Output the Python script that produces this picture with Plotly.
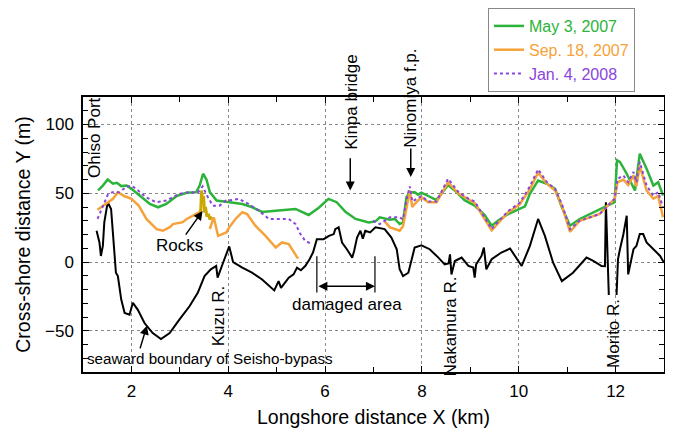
import plotly.graph_objects as go

# ---------------- data ----------------
black_x = [1.28, 1.34, 1.37, 1.41, 1.44, 1.51, 1.58, 1.63, 1.68, 1.72, 1.79, 1.86, 1.96, 2.03, 2.13,
           2.27, 2.44, 2.61, 2.79, 2.99, 3.20, 3.37, 3.51, 3.64, 3.75, 3.78, 3.85, 3.92, 4.02, 4.10,
           4.29, 4.49, 4.70, 4.95, 5.04, 5.09, 5.25, 5.35, 5.42, 5.50, 5.59, 5.68, 5.75, 5.83, 5.97,
           6.08, 6.18, 6.21, 6.28, 6.35, 6.45, 6.56, 6.60, 6.66, 6.73, 6.78, 6.83, 6.93, 7.04, 7.23,
           7.37, 7.48, 7.54, 7.61, 7.72, 7.79, 7.85, 7.99, 8.16, 8.34, 8.47, 8.55, 8.58, 8.61, 8.68,
           8.82, 8.96, 9.06, 9.09, 9.12, 9.23, 9.28, 9.33, 9.44, 9.64, 9.82, 9.92, 10.06, 10.23, 10.40,
           10.54, 10.71, 10.89, 11.12, 11.40, 11.54, 11.71, 11.78, 11.80, 11.86, None, 12.02, 12.05,
           12.09, 12.16, 12.23, 12.26, 12.37, 12.43, 12.50, 12.57, 12.64, 12.78, 12.92, 13.0]
black_y = [22.7, 14.2, 4.4, 11.7, 28.8, 43.5, 38.6, 16.6, -7.8, -10.2, -27.3, -37.0, -38.3, -29.7, -34.6,
           -44.4, -51.7, -56.1, -51.7, -41.9, -32.2, -22.4, -10.2, -5.3, -2.9, -11.4, -5.3, 2.0, 11.3, 0.0,
           -4.1, -7.8, -12.7, -20.7, -13.9, -18.8, -11.4, -9.0, -4.1, -6.0, -2.9, 2.0, 6.9, 16.6, 16.6,
           19.0, 20.3, 23.9, 25.2, 14.2, 9.3, 3.2, 8.0, 17.8, 22.7, 17.0, 22.7, 21.5, 25.2, 23.9,
           17.8, 9.3, -5.3, -10.2, -7.8, 2.0, 10.5, 12.2, 9.3, 3.2, -1.7, -1.0, 5.6, -9.0, 0.7,
           3.2, -2.9, -4.0, -11.4, -1.7, 4.4, 10.5, -5.3, 2.0, 6.9, 9.8, 4.4, -2.9, 11.7, 31.3,
           19.0, -0.5, -13.9, -7.8, 3.2, 0.8, -2.9, -3.0, 43.5, -24.0, None, -24.0, 2.0,
           9.3, 20.0, 33.7, -9.0, 9.3, 11.7, 20.3, 20.3, 14.2, 9.3, 4.4, -0.5]

may_x = [1.31, 1.41, 1.51, 1.62, 1.70, 1.79, 1.90, 2.00, 2.17, 2.38, 2.55, 2.72, 2.93, 3.14, 3.34,
         3.41, 3.48, 3.55, 3.62, 3.76, 4.03, 4.29, 4.50, 4.70, 4.98, 5.39, 5.66, 5.87, 6.07, 6.24,
         6.42, 6.63, 6.90, 7.04, 7.13, 7.23, 7.34, 7.44, 7.54, 7.61, 7.68, 7.75, 7.85, 7.92, 7.99,
         8.13, 8.30, 8.41, 8.54, 8.71, 8.88, 9.09, 9.30, 9.44, 9.57, 9.78, 9.99, 10.13, 10.23, 10.40,
         10.58, 10.75, 10.89, 11.06, 11.26, 11.47, 11.67, 11.84, 11.98, 12.03, 12.09, 12.23, 12.40,
         12.50, 12.64, 12.78, 12.88, 12.98]
may_y = [52.0, 55.6, 60.0, 56.9, 57.6, 55.2, 55.6, 53.2, 48.3, 42.2, 39.8, 42.2, 47.9, 50.3, 50.8,
         55.6, 64.2, 60.0, 50.8, 44.7, 43.5, 42.2, 39.8, 36.4, 37.3, 38.6, 34.2, 39.5, 45.9, 43.5,
         36.5, 31.3, 28.8, 29.5, 32.5, 31.8, 30.7, 31.3, 27.6, 28.8, 47.1, 50.8, 50.8, 49.0, 50.5,
         48.0, 45.0, 50.0, 56.0, 51.0, 45.0, 41.0, 34.0, 26.4, 30.0, 34.9, 38.6, 40.5, 49.6, 59.3,
         56.9, 53.2, 39.8, 26.4, 31.3, 34.9, 38.6, 41.5, 43.5, 74.0, 72.8, 64.2, 52.0,
         78.8, 67.9, 55.6, 58.1, 48.3]

sep_x = [1.30, 1.45, 1.62, 1.72, 1.85, 2.00, 2.15, 2.31, 2.44, 2.52, 2.65, 2.80, 2.86, 3.06, 3.14,
         3.27, 3.41, 3.44, None,
         3.62, 3.70, 3.79, 3.89, 3.96, 4.02, 4.15, 4.29, 4.39, 4.56, 4.77, 4.98, 5.11, 5.25, 5.35, 5.44, None,
         7.22, 7.34, 7.44, 7.54, 7.61, 7.68, 7.75, 7.80, 7.85, 7.99, 8.13, 8.30, 8.54, 8.75, 8.96,
         9.09, 9.30, 9.44, 9.57, 9.78, 10.02, 10.23, 10.40, 10.58, 10.75, 10.89, 11.06, 11.26, 11.47,
         11.67, 11.84, 11.98, 12.04, 12.16, 12.26, 12.37, 12.43, 12.50, 12.64, 12.78, 12.88, 12.98]
sep_y = [38.0, 42.0, 46.0, 50.8, 48.0, 46.0, 41.0, 31.3, 27.0, 23.9, 22.7, 25.5, 27.6, 29.0, 31.3,
         33.7, 36.2, 38.0, None,
         24.0, 32.5, 19.0, 20.3, 21.5, 25.2, 31.3, 36.2, 34.9, 26.4, 19.0, 10.5, 14.2, 13.0, 6.9, 2.5, None,
         30.0, 25.2, 24.0, 22.7, 26.0, 40.0, 52.0, 40.0, 42.2, 47.1, 43.5, 43.5, 58.0, 50.0, 45.9,
         43.0, 31.0, 23.0, 28.0, 36.0, 42.0, 53.0, 65.0, 57.0, 52.0, 41.0, 22.0, 30.0, 32.5,
         35.0, 41.0, 45.9, 58.0, 60.0, 56.0, 63.0, 55.0, 70.0, 52.0, 46.0, 48.0, 32.5]

rocks_x = [3.43, 3.45, 3.47, 3.49, 3.51, 3.53, 3.56, 3.59, 3.62, 3.66]
rocks_y = [37.0, 52.0, 44.0, 48.0, 36.0, 40.0, 33.0, 35.0, 31.0, 33.0]

jan_x = [1.30, 1.41, 1.51, 1.61, 1.75, 1.89, 1.99, 2.10, 2.30, 2.51, 2.72, 2.99, 3.20, 3.37, 3.47,
         3.58, 3.68, 3.82, 3.95, 4.01, 4.22, 4.42, 4.63, 4.84, 5.04, 5.25, 5.39, 5.49, 5.59, 5.73, None,
         6.99, 7.13, 7.34, 7.54, 7.61, 7.68, 7.75, 7.80, 7.85, 7.99, 8.13, 8.30, 8.54, 8.75, 8.96,
         9.09, 9.30, 9.44, 9.57, 9.78, 10.02, 10.23, 10.40, 10.58, 10.75, 10.89, 11.06, 11.26, 11.47,
         11.67, 11.84, 11.98, 12.04, 12.16, 12.26, 12.37, 12.43, 12.50, 12.64, 12.78, 12.88, 12.98]
jan_y = [31.3, 41.0, 48.8, 50.8, 50.8, 54.5, 55.6, 53.2, 47.1, 43.5, 44.7, 49.6, 50.8, 50.3, 55.0,
         47.1, 41.0, 41.0, 44.7, 44.7, 45.9, 42.2, 37.3, 31.3, 31.3, 31.3, 27.6, 20.3, 15.4, 13.0, None,
         30.0, 27.6, 32.5, 32.5, 31.0, 45.0, 55.0, 44.0, 45.0, 48.0, 44.0, 44.0, 60.5, 51.0, 46.0,
         44.0, 32.0, 24.0, 29.0, 37.0, 43.0, 55.0, 67.4, 58.1, 53.2, 42.2, 23.9, 30.0, 32.5,
         34.9, 41.0, 45.9, 60.5, 63.0, 58.1, 65.4, 58.0, 72.8, 55.6, 48.3, 50.8, 39.8]

x_ticks = [2, 4, 6, 8, 10, 12]
y_ticks = [-50, 0, 50, 100]

GREEN = "#2bb33a"
ORANGE = "#f6a23a"
PURPLE = "#8a45dc"
OLIVE = "#c9a800"
FONT = "Liberation Sans, Arial, sans-serif"

fig = go.Figure()
fig.add_trace(go.Scatter(x=black_x, y=black_y, mode="lines", line=dict(color="black", width=2),
                         showlegend=False, connectgaps=False))
fig.add_trace(go.Scatter(x=may_x, y=may_y, mode="lines", line=dict(color=GREEN, width=2.5),
                         name=f"<span style='color:{GREEN}'>May 3, 2007</span>"))
fig.add_trace(go.Scatter(x=sep_x, y=sep_y, mode="lines", line=dict(color=ORANGE, width=2.5),
                         name=f"<span style='color:{ORANGE}'>Sep. 18, 2007</span>", connectgaps=False))
fig.add_trace(go.Scatter(x=jan_x, y=jan_y, mode="lines", line=dict(color=PURPLE, width=2, dash="dot"),
                         name=f"<span style='color:{PURPLE}'>Jan. 4, 2008</span>", connectgaps=False))
fig.add_trace(go.Scatter(x=rocks_x, y=rocks_y, mode="lines", line=dict(color=OLIVE, width=3),
                         showlegend=False))

ann_font = dict(family=FONT, size=17, color="black")
texts = [
    ("Ohiso Port", 1.24, 90.6),
    ("Kinpa bridge", 6.54, 116.0),
    ("Ninomiya f.p.", 7.76, 119.0),
    ("Kuzu R.", 3.80, -39.8),
    ("Nakamura R.", 8.60, -47.0),
    ("Morito R.", 11.97, -52.2),
]
for t, x, y in texts:
    fig.add_annotation(x=x, y=y, xref="x", yref="y", text=t, textangle=-90, showarrow=False,
                       font=ann_font)

fig.add_annotation(x=3.0, y=12.3, text="Rocks", showarrow=False, font=ann_font)
fig.add_annotation(x=6.46, y=-31.0, text="damaged area", showarrow=False, font=ann_font)
fig.add_annotation(x=3.62, y=-70.0, text="seaward boundary of Seisho-bypass", showarrow=False,
                   font=dict(family=FONT, size=15.2, color="black"))

arrows = [
    (6.52, 52.0, 6.52, 76.6),
    (7.77, 61.8, 7.77, 83.7),
    (3.47, 37.1, 3.10, 18.8),
    (2.32, -46.3, 2.17, -63.9),
]
for x, y, ax, ay in arrows:
    fig.add_annotation(x=x, y=y, ax=ax, ay=ay, xref="x", yref="y", axref="x", ayref="y", text="",
                       showarrow=True, arrowhead=2, arrowsize=1.2, arrowwidth=1.5, arrowcolor="black")
# damaged area double arrow
fig.add_annotation(x=7.03, y=-17.6, ax=5.83, ay=-17.6, xref="x", yref="y", axref="x", ayref="y",
                   text="", showarrow=True, arrowhead=2, startarrowhead=2, arrowside="end+start",
                   arrowsize=1.2, arrowwidth=1.5, arrowcolor="black", standoff=0, startstandoff=0)
for xv in (5.83, 7.03):
    fig.add_shape(type="line", x0=xv, x1=xv, y0=4.2, y1=-22.2, xref="x", yref="y",
                  line=dict(color="black", width=1.2))

axis_common = dict(showline=True, linecolor="black", linewidth=1.5, mirror="ticks",
                   ticks="inside", ticklen=6, tickcolor="black", showgrid=True,
                   gridcolor="#888888", griddash="dot", gridwidth=1, zeroline=False,
                   automargin=False,
                   tickfont=dict(family=FONT, size=17, color="black"))

fig.update_xaxes(range=[1, 13], tickvals=x_ticks, ticklabelstandoff=3,
                 minor=dict(dtick=1, tick0=1, ticks="inside", ticklen=5, tickcolor="black", showgrid=False),
                 title=dict(text="Longshore distance X (km)", font=dict(family=FONT, size=19.5, color="black"),
                            standoff=10),
                 **axis_common)
fig.update_yaxes(range=[-80, 120], tickvals=y_ticks, ticklabelstandoff=4,
                 minor=dict(dtick=10, tick0=0, ticks="inside", ticklen=5, tickcolor="black", showgrid=False),
                 title=dict(text="Cross-shore distance Y (m)", font=dict(family=FONT, size=19.5, color="black"),
                            standoff=9),
                 **axis_common)

# the page adds an 8px body margin, so the figure is drawn 8px smaller and margins shifted by 8px
fig.update_layout(
    width=665, height=426,
    margin=dict(l=75, r=9, t=89, b=62, autoexpand=False),
    plot_bgcolor="white", paper_bgcolor="white",
    font=dict(family=FONT, color="black"),
    legend=dict(x=0.697, y=1.3236, xanchor="left", yanchor="top", bordercolor="#888888",
                borderwidth=1, bgcolor="white", font=dict(family=FONT, size=16), tracegroupgap=0),
)

fig.write_html("out.html")
